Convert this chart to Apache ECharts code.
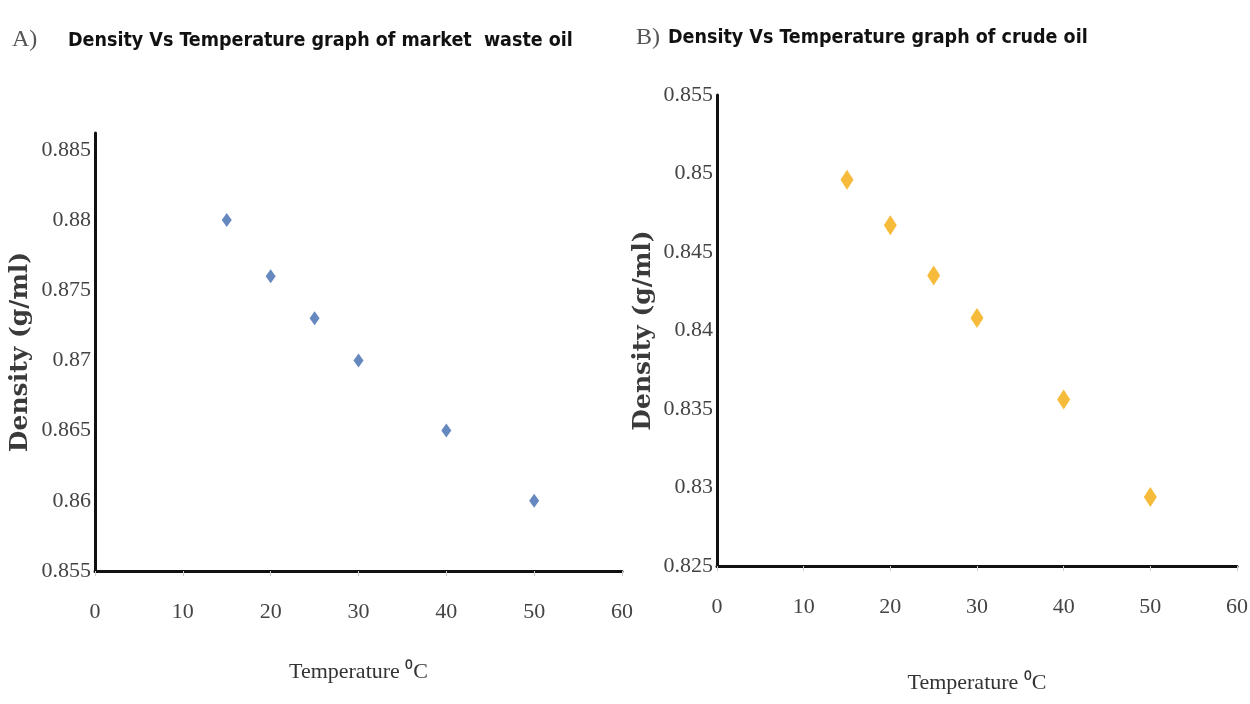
<!DOCTYPE html>
<html>
<head>
<meta charset="utf-8">
<script src="https://cdn.jsdelivr.net/npm/echarts@6/dist/echarts.min.js"></script>
<style>html,body{margin:0;padding:0;background:#fff}#c{width:1250px;height:704px}</style>
</head>
<body>
<div id="c"></div>
<script>
// Data
const temperature = [15, 20, 25, 30, 40, 50];
const wasteOilDensity = [0.880, 0.876, 0.873, 0.870, 0.865, 0.860];
const crudeOilDensity = [0.8496, 0.8467, 0.8435, 0.8408, 0.8356, 0.8294];
const panelTitles = ['Density Vs Temperature graph of market  waste oil', 'Density Vs Temperature graph of crude oil'];
const panelLetters = ['A)', 'B)'];
const xAxisName = 'Temperature \u2070C';
const yAxisName = 'Density (g/ml)';

const chart = echarts.init(document.getElementById('c'), null, {renderer: 'canvas'});

function xAxis(gridIndex, gap) {
  return {
    type: 'value', gridIndex, min: 0, max: 60, interval: 10,
    name: xAxisName, nameLocation: 'middle', nameGap: gap,
    nameTextStyle: {fontFamily: 'Liberation Serif', fontSize: 22, color: '#333'},
    axisLine: {show: true, onZero: false, lineStyle: {color: '#111', width: 3}},
    axisTick: {show: true, length: 5, lineStyle: {color: '#ccc'}},
    axisLabel: {fontFamily: 'Liberation Serif', fontSize: 22, color: '#444', margin: 30},
    splitLine: {show: false}
  };
}
function yAxis(gridIndex, min, max, gap, showMax) {
  return {
    type: 'value', gridIndex, min, max, interval: 0.005,
    name: yAxisName, nameLocation: 'middle', nameGap: gap, nameRotate: 90,
    nameTextStyle: {fontFamily: 'DejaVu Serif', fontWeight: 'bold', fontSize: 25, color: '#3a3a3a'},
    axisLine: {show: true, onZero: false, lineStyle: {color: '#111', width: 3}},
    axisTick: {show: false},
    axisLabel: {fontFamily: 'Liberation Serif', fontSize: 22, color: '#444', margin: 4, showMaxLabel: showMax,
      formatter: v => String(parseFloat(v.toFixed(3)))},
    splitLine: {show: false}
  };
}

const titleFont = {fontFamily: '"DejaVu Sans Condensed", "DejaVu Sans", sans-serif', fontWeight: 'bold', fontSize: 19.5, color: '#111'};
const letterFont = {fontFamily: 'Liberation Serif', fontWeight: 'normal', fontSize: 24, color: '#555'};
const option = {
  backgroundColor: '#fff',
  animation: false,
  title: [
    {text: panelLetters[0], left: 12, top: 28, padding: 0, textStyle: letterFont},
    {text: panelTitles[0], left: 68, top: 31, padding: 0, textStyle: titleFont},
    {text: panelLetters[1], left: 636, top: 26, padding: 0, textStyle: letterFont},
    {text: panelTitles[1], left: 668, top: 28, padding: 0, textStyle: titleFont}
  ],
  grid: [
    {left: 95, top: 133, width: 527, height: 438, outerBoundsMode: 'none', containLabel: false},
    {left: 717, top: 95, width: 520, height: 471, outerBoundsMode: 'none', containLabel: false}
  ],
  xAxis: [xAxis(0, 90), xAxis(1, 106)],
  yAxis: [yAxis(0, 0.855, 0.8862, 62, false), yAxis(1, 0.825, 0.855, 61, true)],
  series: [
    {type: 'scatter', xAxisIndex: 0, yAxisIndex: 0, symbol: 'diamond', symbolSize: [10, 14],
      itemStyle: {color: '#3E6AAE'}, data: temperature.map((t, i) => [t, wasteOilDensity[i]])},
    {type: 'scatter', xAxisIndex: 1, yAxisIndex: 1, symbol: 'diamond', symbolSize: [13, 20],
      itemStyle: {color: '#F5AA0A'}, data: temperature.map((t, i) => [t, crudeOilDensity[i]])}
  ]
};
chart.setOption(option);
</script>
</body>
</html>
